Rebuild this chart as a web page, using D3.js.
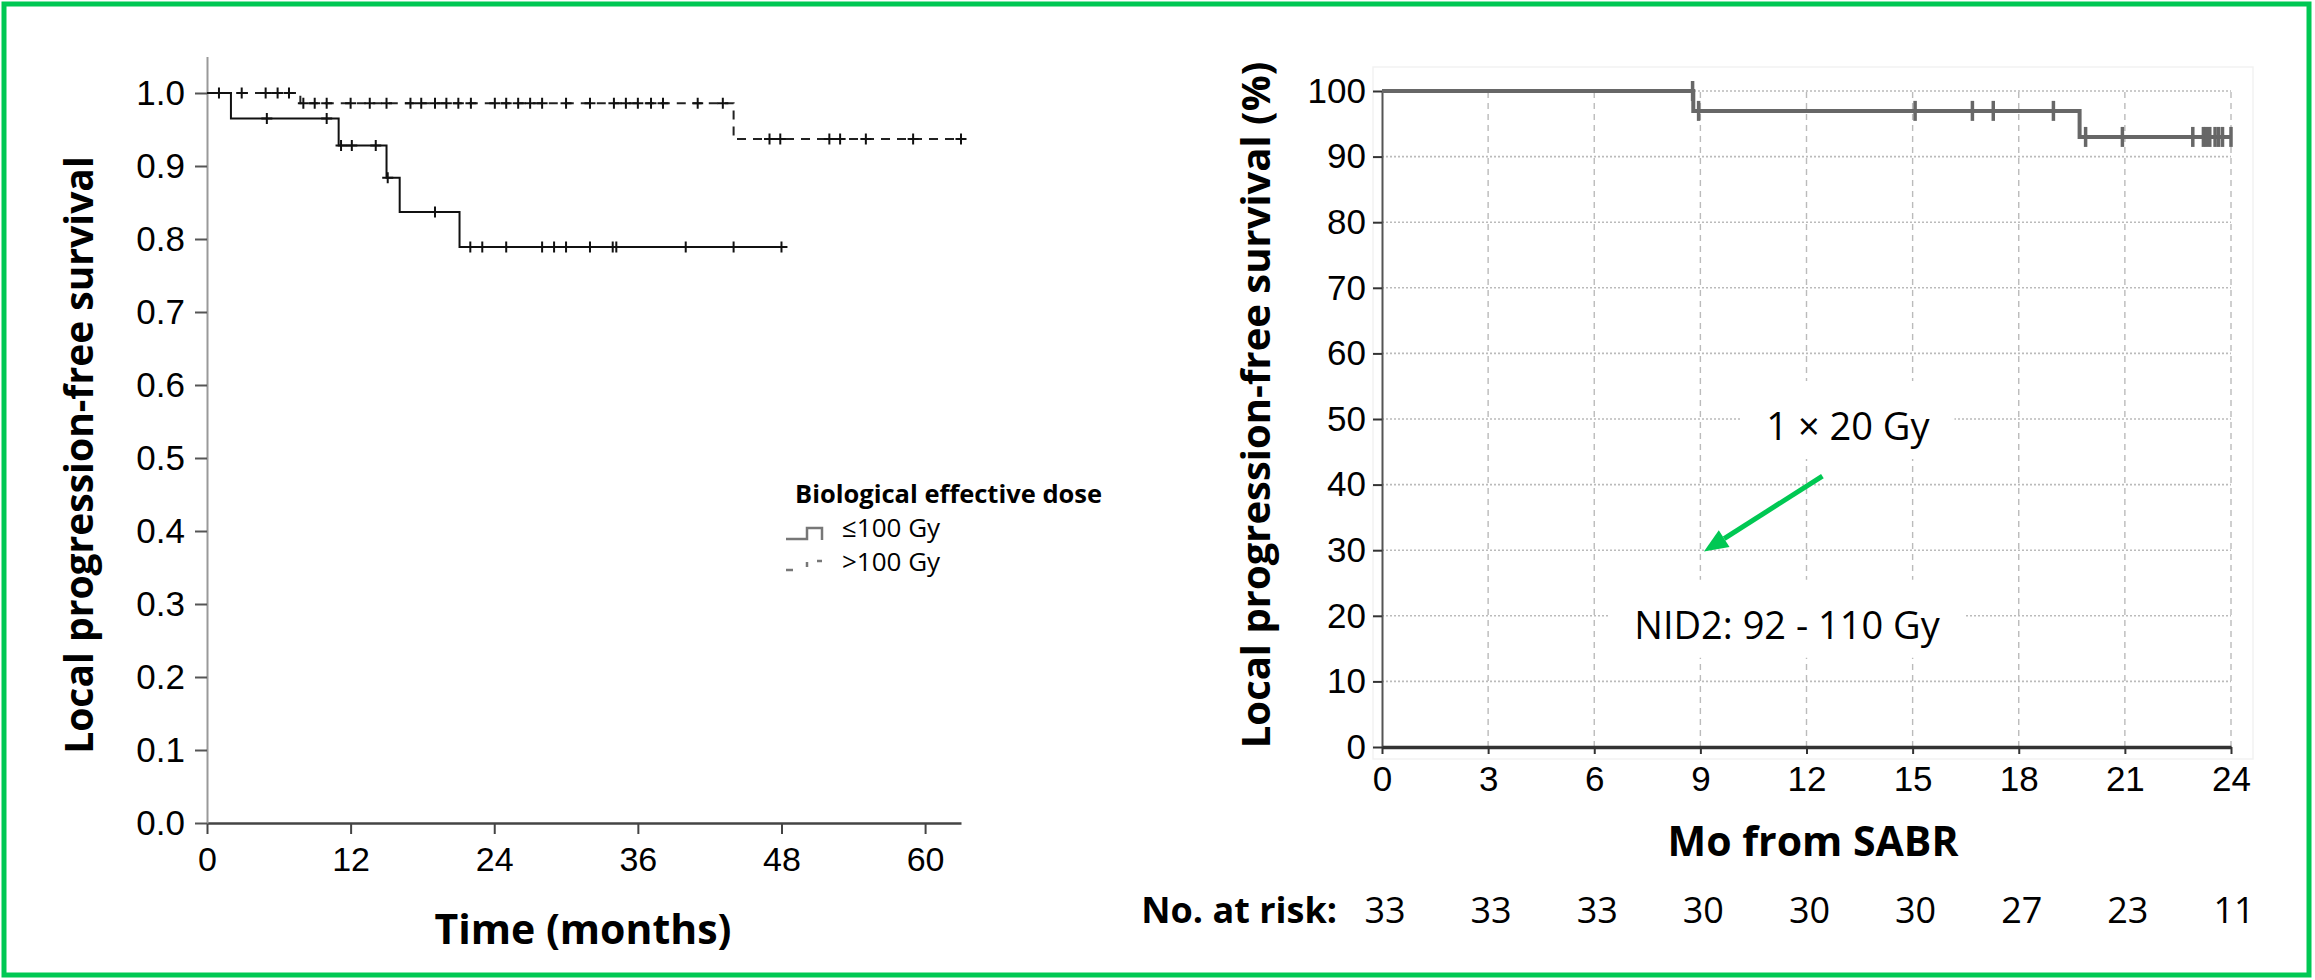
<!DOCTYPE html>
<html>
<head>
<meta charset="utf-8">
<script src="https://d3js.org/d3.v7.min.js"></script>
<style>
  body { margin: 0; background: #fff; }
  svg { font-family: 'Open Sans', sans-serif; }
</style>
</head>
<body>
<svg id="chart" width="2315" height="980"></svg>
<script>
// ---- left panel: local PFS by biological effective dose ----
const bedGroups = ['≤100 Gy', '>100 Gy'];
const lowSteps = [[0, 1], [2.0, 0.965], [11.0, 0.928], [15.0, 0.884], [16.1, 0.837], [21.1, 0.789]];
const lowEnd = 48.5;
const lowCensor = [5.0, 10.0, 11.2, 12.1, 14.1, 15.1, 19.05, 22.0, 23.0, 25.0, 28.0, 29.0, 30.0, 32.0, 33.9, 34.2, 40.0, 44.0, 48.0];
const highSteps = [[0, 1], [7.8, 0.986], [44.0, 0.937]];
const highEnd = 63.0;
const highCensor = [1.0, 2.9, 4.9, 5.9, 6.85, 8.05, 9.0, 10.0, 12.0, 13.6, 15.0, 17.0, 17.9, 19.05, 20.0, 21.0, 22.05,
  24.05, 25.0, 26.0, 27.0, 28.0, 30.0, 32.0, 34.0, 35.0, 36.0, 37.1, 38.1, 41.0, 43.1, 47.0, 47.9, 52.0, 52.9, 55.05, 59.0, 63.0];
const leftTimeTicks = [0, 12, 24, 36, 48, 60];
const leftSurvTicks = [0, 0.1, 0.2, 0.3, 0.4, 0.5, 0.6, 0.7, 0.8, 0.9, 1.0];

// ---- right panel: local PFS after 1 x 20 Gy SABR ----
const sabrSteps = [[0, 100], [8.8, 96.97], [19.72, 93.0]];
const sabrEnd = 24.0;
const sabrCensor = [8.78, 8.95, 15.07, 16.69, 17.28, 18.98, 19.89, 20.93, 22.92, 23.22, 23.3, 23.4, 23.55, 23.65, 23.76, 24.0];
const monthTicks = [0, 3, 6, 9, 12, 15, 18, 21, 24];
const pctTicks = [0, 10, 20, 30, 40, 50, 60, 70, 80, 90, 100];
const atRisk = [33, 33, 33, 30, 30, 30, 27, 23, 11];
const notes = [
  {text: '1 × 20 Gy', x: 13.17, y: 46.8},
  {text: 'NID2: 92 - 110 Gy', x: 11.45, y: 16.5}
];
const arrowFrom = [12.45, 41.3], arrowTo = [9.1, 29.8];

const svg = d3.select('#chart');

// green frame
svg.append('rect').attr('x', 4).attr('y', 4).attr('width', 2305).attr('height', 971)
  .attr('fill', 'none').attr('stroke', '#00c853').attr('stroke-width', 5);

function survAt(steps, t) {
  let s = steps[0][1];
  steps.forEach(d => { if (d[0] <= t) s = d[1]; });
  return s;
}
function stepPts(steps, end) {
  return steps.concat([[end, steps[steps.length - 1][1]]]);
}

// ================= LEFT =================
const xL = d3.scaleLinear().domain([0, 63]).range([207, 961]);
const yL = d3.scaleLinear().domain([0, 1.05]).range([823, 56.5]);

const lineL = d3.line().x(d => xL(d[0])).y(d => yL(d[1])).curve(d3.curveStepAfter);

const gL = svg.append('g');

const axL_x = gL.append('g').attr('transform', 'translate(0,' + yL(0) + ')')
  .call(d3.axisBottom(xL).tickValues(leftTimeTicks).tickSize(11).tickPadding(13).tickSizeOuter(0));
axL_x.select('.domain').attr('stroke', '#444').attr('stroke-width', 2.5);
axL_x.selectAll('.tick line').attr('stroke', '#444').attr('stroke-width', 2);
axL_x.selectAll('.tick text').style('font-size', '34px').attr('fill', '#000');

const axL_y = gL.append('g').attr('transform', 'translate(' + xL(0) + ',0)')
  .call(d3.axisLeft(yL).tickValues(leftSurvTicks).tickSize(12).tickPadding(10).tickSizeOuter(0).tickFormat(d3.format('.1f')));
axL_y.select('.domain').attr('stroke', '#999').attr('stroke-width', 2);
axL_y.selectAll('.tick line').attr('stroke', '#555').attr('stroke-width', 2);
axL_y.selectAll('.tick text').style('font-size', '35px').attr('fill', '#000');

// curves
gL.append('path').datum(stepPts(highSteps, highEnd)).attr('d', lineL)
  .attr('fill', 'none').attr('stroke', '#222').attr('stroke-width', 2).attr('stroke-dasharray', '9,7');
gL.append('path').datum(stepPts(lowSteps, lowEnd)).attr('d', lineL)
  .attr('fill', 'none').attr('stroke', '#111').attr('stroke-width', 2);

function plusMarks(g, times, steps, x, y) {
  g.selectAll(null).data(times).join('path')
    .attr('d', t => {
      const cx = x(t), cy = y(survAt(steps, t));
      return 'M' + (cx - 5.5) + ',' + cy + 'H' + (cx + 5.5) + 'M' + cx + ',' + (cy - 5.5) + 'V' + (cy + 5.5);
    })
    .attr('stroke', '#111').attr('stroke-width', 2).attr('fill', 'none');
}
plusMarks(gL, highCensor, highSteps, xL, yL);
plusMarks(gL, lowCensor, lowSteps, xL, yL);

// axis titles
gL.append('text').attr('transform', 'translate(93,455) rotate(-90)')
  .attr('text-anchor', 'middle').style('font-size', '39px').style('font-weight', 700)
  .text('Local progression-free survival');
gL.append('text').attr('x', 583).attr('y', 944).attr('text-anchor', 'middle')
  .style('font-size', '41px').style('font-weight', 700).text('Time (months)');

// legend
const leg = gL.append('g');
leg.append('text').attr('x', 795).attr('y', 503).style('font-size', '25.5px').style('font-weight', 700)
  .text('Biological effective dose');
leg.append('path').attr('d', 'M786,539H807V528H822V540')
  .attr('fill', 'none').attr('stroke', '#777').attr('stroke-width', 2.5);
leg.append('path').attr('d', 'M786,570H807V561H822V572')
  .attr('fill', 'none').attr('stroke', '#777').attr('stroke-width', 2.5).attr('stroke-dasharray', '7,17,5,11,5,20');
leg.selectAll('text.item').data(bedGroups).join('text').attr('class', 'item')
  .attr('x', 842).attr('y', (d, i) => 537 + i * 34).style('font-size', '26px').text(d => d);

// ================= RIGHT =================
const xR = d3.scaleLinear().domain([0, 24]).range([1382, 2231]);
const yR = d3.scaleLinear().domain([0, 100]).range([747, 91]);
const gR = svg.append('g');

// faint panel frame
gR.append('rect').attr('x', 1373).attr('y', 67).attr('width', 880).attr('height', 692)
  .attr('fill', 'none').attr('stroke', '#f2f2f2').attr('stroke-width', 1.5);

// grid
gR.selectAll('line.hgrid').data(pctTicks.filter(d => d > 0)).join('line').attr('class', 'hgrid')
  .attr('x1', xR(0)).attr('x2', xR(24)).attr('y1', d => yR(d)).attr('y2', d => yR(d))
  .attr('stroke', '#bbb').attr('stroke-width', 1.6).attr('stroke-dasharray', '2,2');
gR.selectAll('line.vgrid').data(monthTicks.filter(d => d > 0)).join('line').attr('class', 'vgrid')
  .attr('x1', d => xR(d)).attr('x2', d => xR(d)).attr('y1', yR(0)).attr('y2', yR(100))
  .attr('stroke', '#bbb').attr('stroke-width', 1.4).attr('stroke-dasharray', '6,5');

// annotations with white boxes
notes.forEach(n => {
  const t = gR.append('text').attr('x', xR(n.x)).attr('y', yR(n.y)).attr('text-anchor', 'middle')
    .style('font-size', '38px').text(n.text);
  const b = t.node().getBBox();
  gR.insert('rect', () => t.node())
    .attr('x', b.x - 26).attr('y', b.y - 18).attr('width', b.width + 50).attr('height', b.height + 26)
    .attr('fill', '#fff');
});

// arrow
{
  const x1 = xR(arrowFrom[0]), y1 = yR(arrowFrom[1]), x2 = xR(arrowTo[0]), y2 = yR(arrowTo[1]);
  const ang = Math.atan2(y2 - y1, x2 - x1), hl = 24, hw = 10;
  const bx = x2 - hl * Math.cos(ang), by = y2 - hl * Math.sin(ang);
  gR.append('line').attr('x1', x1).attr('y1', y1).attr('x2', bx).attr('y2', by)
    .attr('stroke', '#00c853').attr('stroke-width', 5);
  const px = -Math.sin(ang) * hw, py = Math.cos(ang) * hw;
  gR.append('path').attr('d', 'M' + x2 + ',' + y2 + 'L' + (bx + px) + ',' + (by + py) + 'L' + (bx - px) + ',' + (by - py) + 'Z')
    .attr('fill', '#00c853');
}

// axes
const axR_y = gR.append('g').attr('transform', 'translate(' + xR(0) + ',0)')
  .call(d3.axisLeft(yR).tickValues(pctTicks).tickSize(9).tickPadding(7).tickSizeOuter(0));
axR_y.select('.domain').attr('stroke', '#555').attr('stroke-width', 2);
axR_y.selectAll('.tick line').attr('stroke', '#333').attr('stroke-width', 2);
axR_y.selectAll('.tick text').style('font-size', '35px').attr('fill', '#000');

const axR_x = gR.append('g').attr('transform', 'translate(0,' + yR(0) + ')')
  .call(d3.axisBottom(xR).tickValues(monthTicks).tickSize(7).tickPadding(12).tickSizeOuter(0));
axR_x.select('.domain').attr('stroke', '#333').attr('stroke-width', 3.5);
axR_x.selectAll('.tick line').attr('stroke', '#333').attr('stroke-width', 2);
axR_x.selectAll('.tick text').style('font-size', '35px').attr('fill', '#000');

// curve
const lineR = d3.line().x(d => xR(d[0])).y(d => yR(d[1])).curve(d3.curveStepAfter);
gR.append('path').datum(stepPts(sabrSteps, sabrEnd)).attr('d', lineR)
  .attr('fill', 'none').attr('stroke', '#676767').attr('stroke-width', 4);
gR.selectAll('line.cens').data(sabrCensor).join('line').attr('class', 'cens')
  .attr('x1', d => xR(d)).attr('x2', d => xR(d))
  .attr('y1', d => yR(survAt(sabrSteps, d)) - 10).attr('y2', d => yR(survAt(sabrSteps, d)) + 10)
  .attr('stroke', '#676767').attr('stroke-width', 3.5);

// titles
gR.append('text').attr('transform', 'translate(1270,405) rotate(-90)')
  .attr('text-anchor', 'middle').style('font-size', '40px').style('font-weight', 700)
  .text('Local progression-free survival (%)');
gR.append('text').attr('x', 1813).attr('y', 856).attr('text-anchor', 'middle')
  .style('font-size', '41px').style('font-weight', 700).text('Mo from SABR');

// number at risk
gR.append('text').attr('x', 1337).attr('y', 923).attr('text-anchor', 'end')
  .style('font-size', '36px').style('font-weight', 700).text('No. at risk:');
gR.selectAll('text.risk').data(atRisk).join('text').attr('class', 'risk')
  .attr('x', (d, i) => xR(monthTicks[i]) + 3).attr('y', 923).attr('text-anchor', 'middle')
  .style('font-size', '36px').text(d => d);
</script>
</body>
</html>
